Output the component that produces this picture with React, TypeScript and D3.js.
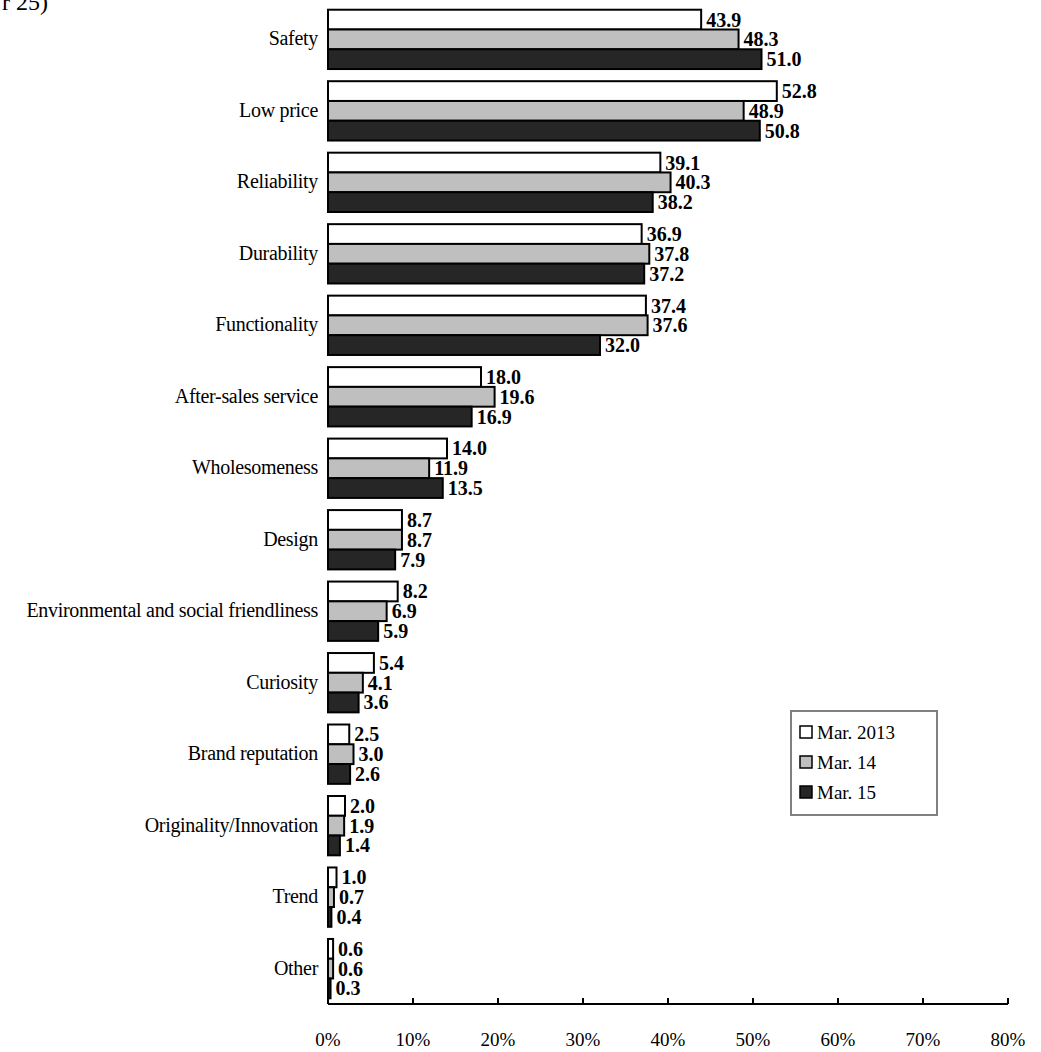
import React, { useEffect, useRef } from "react";
import * as d3 from "d3";

const categories = [
  "Safety", "Low price", "Reliability", "Durability", "Functionality",
  "After-sales service", "Wholesomeness", "Design",
  "Environmental and social friendliness", "Curiosity", "Brand reputation",
  "Originality/Innovation", "Trend", "Other",
];
const seriesNames = ["Mar. 2013", "Mar. 14", "Mar. 15"];
const mar2013 = [43.9, 52.8, 39.1, 36.9, 37.4, 18.0, 14.0, 8.7, 8.2, 5.4, 2.5, 2.0, 1.0, 0.6];
const mar2014 = [48.3, 48.9, 40.3, 37.8, 37.6, 19.6, 11.9, 8.7, 6.9, 4.1, 3.0, 1.9, 0.7, 0.6];
const mar2015 = [51.0, 50.8, 38.2, 37.2, 32.0, 16.9, 13.5, 7.9, 5.9, 3.6, 2.6, 1.4, 0.4, 0.3];
const xTicks = [0, 10, 20, 30, 40, 50, 60, 70, 80];
const colors = ["#ffffff", "#bfbfbf", "#262626"];

const App: React.FC = () => {
  const ref = useRef<SVGSVGElement>(null);

  useEffect(() => {
    if (!ref.current) return;
    const svg = d3.select(ref.current);
    svg.selectAll("*").remove();
    const font = "'Liberation Serif', 'Times New Roman', serif";
    const left = 328, right = 1008, top = 4, bottom = 1004;

    const x = d3.scaleLinear().domain([0, 80]).range([left, right]);
    const y = d3.scaleBand().domain(categories).range([top, bottom]).paddingInner(0.17).paddingOuter(0.08);
    const series = [mar2013, mar2014, mar2015];
    const sub = d3.scaleBand().domain(["0", "1", "2"]).range([0, y.bandwidth()]);

    svg.append("text").attr("x", 2).attr("y", 10).attr("font-family", font)
      .attr("font-size", 24).text("r 25)");

    const g = svg.append("g");
    categories.forEach((c, i) => {
      g.append("text").attr("x", left - 10).attr("y", (y(c) ?? 0) + y.bandwidth() / 2 + 6)
        .attr("text-anchor", "end").attr("font-family", font).attr("font-size", 20)
        .attr("letter-spacing", -0.3).text(c);
      series.forEach((s, k) => {
        const yy = (y(c) ?? 0) + (sub(String(k)) ?? 0);
        g.append("rect").attr("x", x(0)).attr("y", yy)
          .attr("width", x(s[i]) - x(0)).attr("height", sub.bandwidth())
          .attr("fill", colors[k]).attr("stroke", "#000").attr("stroke-width", 2);
        g.append("text").attr("x", x(s[i]) + 5).attr("y", yy + sub.bandwidth() / 2 + 7)
          .attr("font-family", font).attr("font-size", 20).attr("font-weight", "bold")
          .text(s[i].toFixed(1));
      });
    });

    // axis
    svg.append("line").attr("x1", left).attr("x2", right).attr("y1", bottom).attr("y2", bottom)
      .attr("stroke", "#000").attr("stroke-width", 2);
    xTicks.forEach((t) => {
      svg.append("line").attr("x1", x(t)).attr("x2", x(t)).attr("y1", bottom - 6).attr("y2", bottom)
        .attr("stroke", "#000").attr("stroke-width", 2);
      svg.append("text").attr("x", x(t)).attr("y", bottom + 42).attr("text-anchor", "middle")
        .attr("font-family", font).attr("font-size", 19).text(`${t}%`);
    });

    // legend
    const lg = svg.append("g").attr("transform", "translate(791,711)");
    lg.append("rect").attr("width", 146).attr("height", 104).attr("fill", "#fff")
      .attr("stroke", "#808080").attr("stroke-width", 2);
    seriesNames.forEach((n, k) => {
      const ly = 22 + k * 30;
      lg.append("rect").attr("x", 9).attr("y", ly - 7).attr("width", 12).attr("height", 12)
        .attr("fill", colors[k]).attr("stroke", "#000").attr("stroke-width", 1.5);
      lg.append("text").attr("x", 26).attr("y", ly + 6).attr("font-family", font)
        .attr("font-size", 19).text(n);
    });
  }, []);

  return (
    <svg ref={ref} width={1041} height={1052}
      style={{ position: "absolute", left: 0, top: 0, background: "#fff" }} />
  );
};

export default App;
